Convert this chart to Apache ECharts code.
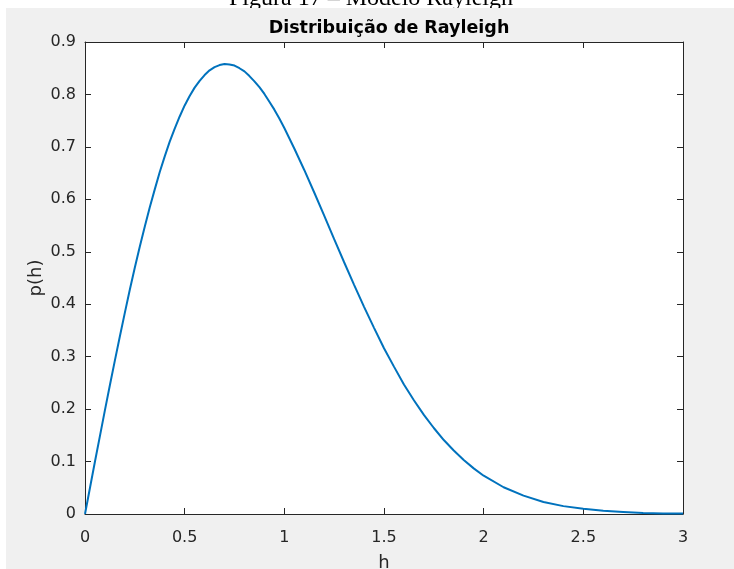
<!DOCTYPE html>
<html>
<head>
<meta charset="utf-8">
<script src="https://cdn.jsdelivr.net/npm/echarts@6/dist/echarts.min.js"></script>
<style>
  html, body { margin: 0; padding: 0; background: #ffffff; }
  #chart { width: 734px; height: 569px; }
</style>
</head>
<body>
<div id="chart"></div>
<script>
// Rayleigh density p(h), sampled along h
const hValues = [
  0, 0.025, 0.05, 0.075, 0.1, 0.125, 0.15, 0.175, 0.2, 0.225,
  0.25, 0.275, 0.3, 0.325, 0.35, 0.375, 0.4, 0.425, 0.45, 0.475,
  0.5, 0.525, 0.55, 0.575, 0.6, 0.625, 0.65, 0.675, 0.7, 0.725,
  0.75, 0.775, 0.8, 0.825, 0.85, 0.875, 0.9, 0.925, 0.95, 0.975,
  1.0, 1.05, 1.1, 1.15, 1.2, 1.25, 1.3, 1.35, 1.4, 1.45,
  1.5, 1.55, 1.6, 1.65, 1.7, 1.75, 1.8, 1.85, 1.9, 1.95,
  2.0, 2.1, 2.2, 2.3, 2.4, 2.5, 2.6, 2.7, 2.8, 2.9, 3.0
];
const pValues = [
  0, 0.050, 0.100, 0.149, 0.198, 0.246, 0.293, 0.339, 0.384, 0.428,
  0.470, 0.510, 0.548, 0.585, 0.619, 0.652, 0.682, 0.710, 0.735, 0.758,
  0.779, 0.797, 0.813, 0.826, 0.837, 0.846, 0.852, 0.856, 0.858, 0.857,
  0.855, 0.850, 0.844, 0.835, 0.825, 0.814, 0.801, 0.786, 0.771, 0.754,
  0.736, 0.697, 0.656, 0.613, 0.569, 0.524, 0.480, 0.437, 0.395, 0.355,
  0.316, 0.281, 0.247, 0.217, 0.189, 0.164, 0.141, 0.121, 0.103, 0.087,
  0.073, 0.051, 0.035, 0.023, 0.015, 0.010, 0.006, 0.004, 0.002, 0.001, 0.001
];
const xTicks = [0, 0.5, 1, 1.5, 2, 2.5, 3];
const yTicks = [0, 0.1, 0.2, 0.3, 0.4, 0.5, 0.6, 0.7, 0.8, 0.9];

const captionText = 'Figura 17 – Modelo Rayleigh';
const titleText = 'Distribuição de Rayleigh';
const xName = 'h';
const yName = 'p(h)';

const ink = '#262626';
const uiFont = '"DejaVu Sans", Verdana, sans-serif';

const axisBase = {
  type: 'value',
  axisLine: { show: true, onZero: false, lineStyle: { color: ink, width: 1 } },
  axisTick: { show: true, inside: true, length: 6, lineStyle: { color: ink, width: 1 } },
  splitLine: { show: false },
  nameMoveOverlap: false
};

const xRange = {
  min: xTicks[0],
  max: xTicks[xTicks.length - 1],
  interval: xTicks[1] - xTicks[0]
};
const yRange = {
  min: yTicks[0],
  max: yTicks[yTicks.length - 1],
  interval: +(yTicks[1] - yTicks[0]).toFixed(2)
};

const tickFormat = v => String(+v.toFixed(2));

const chart = echarts.init(document.getElementById('chart'), null, { renderer: 'canvas' });

chart.setOption({
  animation: false,
  backgroundColor: '#ffffff',
  graphic: [
    {
      type: 'text',
      z: -2,
      x: 371,
      y: -1.5,
      style: {
        text: captionText,
        fill: '#000000',
        font: '24px "Liberation Serif", "Times New Roman", serif',
        align: 'center',
        verticalAlign: 'middle'
      }
    },
    {
      type: 'rect',
      z: -1,
      shape: { x: 6, y: 8, width: 728, height: 561 },
      style: { fill: '#f0f0f0' },
      silent: true
    }
  ],
  title: {
    text: titleText,
    left: 384,
    top: 14,
    textAlign: 'center',
    textStyle: {
      fontFamily: uiFont,
      fontWeight: 'bold',
      fontSize: 17.5,
      color: '#000000'
    }
  },
  grid: {
    left: 85,
    top: 42,
    width: 598,
    height: 472,
    show: true,
    backgroundColor: '#ffffff',
    borderWidth: 0,
    containLabel: false,
    outerBoundsMode: 'none'
  },
  xAxis: [
    Object.assign({}, axisBase, xRange, {
      position: 'bottom',
      name: xName,
      nameLocation: 'middle',
      nameGap: 40,
      nameTextStyle: { fontFamily: uiFont, fontSize: 18, color: ink },
      axisLabel: {
        show: true, margin: 16,
        fontFamily: uiFont, fontSize: 16, color: ink,
        formatter: tickFormat
      }
    }),
    Object.assign({}, axisBase, xRange, {
      position: 'top',
      axisLabel: { show: false }
    })
  ],
  yAxis: [
    Object.assign({}, axisBase, yRange, {
      position: 'left',
      name: yName,
      nameLocation: 'middle',
      nameGap: 40,
      nameTextStyle: { fontFamily: uiFont, fontSize: 18, color: ink },
      axisLabel: {
        show: true, margin: 9,
        fontFamily: uiFont, fontSize: 16, color: ink,
        formatter: tickFormat
      }
    }),
    Object.assign({}, axisBase, yRange, {
      position: 'right',
      axisLabel: { show: false }
    })
  ],
  series: [
    {
      type: 'line',
      xAxisIndex: 0,
      yAxisIndex: 0,
      data: hValues.map((h, i) => [h, pValues[i]]),
      showSymbol: false,
      symbol: 'none',
      smooth: false,
      lineStyle: { color: '#0072BD', width: 2 }
    }
  ]
});
</script>
</body>
</html>
